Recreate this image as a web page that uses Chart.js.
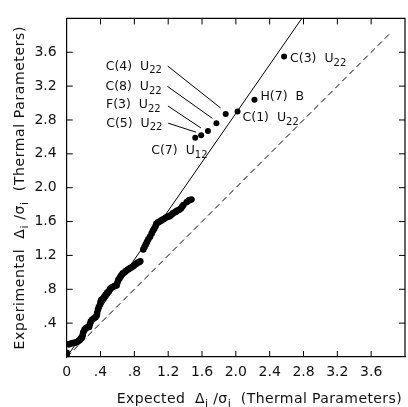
<!DOCTYPE html>
<html>
<head>
<meta charset="utf-8">
<script src="https://cdn.jsdelivr.net/npm/chart.js@4"></script>
<style>
  body { margin: 0; overflow: hidden; background: #fff; }
  #chart-thermal { position: absolute; left: 0; top: 0; }
</style>
</head>
<body>
<canvas id="chart-thermal" width="412" height="407"></canvas>
<script>
// dense run of atoms along the diagonal
var clusterX = [0.00, 0.00, 0.02, 0.03, 0.05, 0.07, 0.085, 0.10, 0.12, 0.14, 0.155, 0.17, 0.18, 0.19,
                0.195, 0.21, 0.225, 0.245, 0.265, 0.275, 0.285, 0.30, 0.32, 0.34, 0.355, 0.36, 0.37, 0.38,
                0.395, 0.40, 0.41, 0.43, 0.445, 0.46, 0.48, 0.50, 0.515, 0.53, 0.55, 0.57, 0.59, 0.60,
                0.61, 0.625, 0.64, 0.655, 0.665, 0.685, 0.70, 0.72, 0.735, 0.75, 0.77, 0.79, 0.805, 0.82,
                0.84, 0.855, 0.87, 0.905, 0.92, 0.935, 0.95, 0.965, 0.985, 1.005, 1.02, 1.035, 1.05, 1.06,
                1.08, 1.10, 1.115, 1.13, 1.15, 1.17, 1.19, 1.21, 1.225, 1.245, 1.26, 1.28, 1.295, 1.31,
                1.33, 1.35, 1.365, 1.38, 1.42, 1.445, 1.475];
var clusterY = [0.03, 0.05, 0.15, 0.15, 0.16, 0.165, 0.165, 0.17, 0.175, 0.19, 0.20, 0.22, 0.235, 0.26,
                0.29, 0.32, 0.34, 0.35, 0.355, 0.39, 0.42, 0.44, 0.455, 0.47, 0.49, 0.52, 0.56, 0.59,
                0.62, 0.65, 0.675, 0.69, 0.71, 0.735, 0.76, 0.78, 0.805, 0.82, 0.83, 0.84, 0.845, 0.88,
                0.91, 0.93, 0.955, 0.975, 0.99, 1.00, 1.015, 1.03, 1.04, 1.05, 1.06, 1.075, 1.09, 1.10,
                1.115, 1.12, 1.13, 1.27, 1.30, 1.33, 1.36, 1.39, 1.42, 1.46, 1.49, 1.515, 1.545, 1.575,
                1.59, 1.60, 1.61, 1.62, 1.63, 1.645, 1.655, 1.66, 1.67, 1.685, 1.70, 1.71, 1.72, 1.73,
                1.74, 1.755, 1.775, 1.795, 1.83, 1.85, 1.86];

// labelled atoms
var atomNames = ['C(3)', 'H(7)', 'C(1)', 'C(4)', 'C(8)', 'F(3)', 'C(5)', 'C(7)'];
var atomParam = ['U', 'B', 'U', 'U', 'U', 'U', 'U', 'U'];
var atomSub   = ['22', '', '22', '22', '22', '22', '22', '12'];
var atomX = [2.57, 2.22, 2.02, 1.88, 1.77, 1.67, 1.59, 1.52];
var atomY = [3.55, 3.04, 2.90, 2.87, 2.76, 2.67, 2.62, 2.59];

// reference lines
var fitX = [0, 2.78];
var fitY = [0, 4.0];
var idealX = [0, 3.83];
var idealY = [0, 3.83];

var axisMin = 0, axisMax = 4.0, tickStep = 0.4;

function toPoints(xs, ys) {
    return xs.map(function (x, i) { return { x: x, y: ys[i] }; });
}

function fmtTick(v, showZero) {
    if (Math.abs(v - axisMax) < 1e-6) return '';
    if (Math.abs(v) < 1e-6) return showZero ? '0' : '';
    return v.toFixed(1).replace(/^0\./, '.');
}

var FONT = '"DejaVu Sans"';
var INK = '#111';

// where each label sits, in px from its dot
var labelLayout = [
    { dx: 6, dy: 1 },
    { dx: 6, dy: -4 },
    { dx: 5, dy: 5 },
    { dx: -120, dy: -49, leader: [-58, -48, -5, -6] },
    { dx: -111, dy: -38, leader: [-49, -37, -4, -5] },
    { dx: -102, dy: -27, leader: [-40, -25, -7, -3] },
    { dx: -95, dy: -13, leader: [-33, -12, -5, -3] },
    { dx: -44, dy: 12 }
];

// draws a list of [text, isSubscript] pieces from x, baseline y
function drawPieces(ctx, pieces, x, y, size) {
    pieces.forEach(function (p) {
        var sub = p[1];
        ctx.font = (sub ? size * 0.8 : size) + 'px ' + FONT;
        ctx.fillText(p[0], x, sub ? y + size * 0.3 : y);
        x += ctx.measureText(p[0]).width;
    });
    return x;
}
function piecesWidth(ctx, pieces, size) {
    var w = 0;
    pieces.forEach(function (p) {
        ctx.font = (p[1] ? size * 0.8 : size) + 'px ' + FONT;
        w += ctx.measureText(p[0]).width;
    });
    return w;
}

var decor = {
    id: 'decor',
    afterDraw: function (chart) {
        var ctx = chart.ctx, a = chart.chartArea;
        var sx = chart.scales.x, sy = chart.scales.y;
        ctx.save();
        ctx.strokeStyle = '#000';
        ctx.lineWidth = 1.2;
        // frame top + right
        ctx.beginPath();
        ctx.moveTo(a.left, a.top); ctx.lineTo(a.right, a.top); ctx.lineTo(a.right, a.bottom);
        ctx.stroke();
        // inward ticks
        ctx.lineWidth = 1;
        ctx.beginPath();
        sx.ticks.forEach(function (t) {
            if (t.value <= 0 || t.value >= axisMax) return;
            var px = sx.getPixelForValue(t.value);
            ctx.moveTo(px, a.bottom); ctx.lineTo(px, a.bottom - 6);
            ctx.moveTo(px, a.top); ctx.lineTo(px, a.top + 6);
        });
        sy.ticks.forEach(function (t) {
            if (t.value <= 0 || t.value >= axisMax) return;
            var py = sy.getPixelForValue(t.value);
            ctx.moveTo(a.left, py); ctx.lineTo(a.left + 6, py);
            ctx.moveTo(a.right, py); ctx.lineTo(a.right - 6, py);
        });
        ctx.stroke();

        // atom labels
        ctx.fillStyle = INK;
        ctx.textBaseline = 'alphabetic';
        ctx.textAlign = 'left';
        var size = 12.5;
        atomNames.forEach(function (name, i) {
            var px = sx.getPixelForValue(atomX[i]);
            var py = sy.getPixelForValue(atomY[i]);
            var L = labelLayout[i];
            var x = px + L.dx, y = py + L.dy + size * 0.36;
            drawPieces(ctx, [[name + '  ' + atomParam[i], false], [atomSub[i], true]], x, y, size);
            if (L.leader) {
                ctx.beginPath();
                ctx.moveTo(px + L.leader[0], py + L.leader[1]);
                ctx.lineTo(px + L.leader[2], py + L.leader[3]);
                ctx.stroke();
            }
        });

        // axis titles
        var tsize = 14;
        ctx.letterSpacing = '0.4px';
        var xt = [['Expected  Δ', false], ['i', true], [' /σ', false], ['i', true], ['  (Thermal Parameters)', false]];
        drawPieces(ctx, xt, a.left + 50, a.bottom + 46, tsize);
        ctx.letterSpacing = '0.6px';
        var yt = [['Experimental  Δ', false], ['i', true], [' /σ', false], ['i', true], ['  (Thermal Parameters)', false]];
        var w = piecesWidth(ctx, yt, tsize);
        ctx.translate(24, (a.top + a.bottom) / 2);
        ctx.rotate(-Math.PI / 2);
        drawPieces(ctx, yt, -w / 2, 0, tsize);
        ctx.restore();
    }
};

var config = {
    type: 'scatter',
    data: {
        datasets: [{
            data: toPoints(clusterX, clusterY),
            backgroundColor: '#000',
            borderWidth: 0,
            pointRadius: 3.3
        }, {
            data: toPoints(atomX, atomY),
            backgroundColor: '#000',
            borderWidth: 0,
            pointRadius: 3
        }, {
            type: 'line',
            data: toPoints(fitX, fitY),
            borderColor: '#000',
            borderWidth: 1,
            pointRadius: 0,
            fill: false
        }, {
            type: 'line',
            data: toPoints(idealX, idealY),
            borderColor: '#000',
            borderWidth: 1,
            borderDash: [6, 4],
            pointRadius: 0,
            fill: false
        }]
    },
    options: {
        responsive: false,
        animation: false,
        layout: { padding: { top: 13, right: 1.7, left: 0, bottom: 0 } },
        plugins: { legend: { display: false }, tooltip: { enabled: false } },
        scales: {
            x: {
                type: 'linear', min: axisMin, max: axisMax,
                afterFit: function (s) { s.height = 50; },
                grid: { drawOnChartArea: false, drawTicks: false },
                border: { display: true, color: '#000', width: 1.2 },
                ticks: {
                    stepSize: tickStep, autoSkip: false, maxRotation: 0, padding: 7,
                    color: INK, font: { family: 'DejaVu Sans', size: 14 },
                    callback: function (v) { return fmtTick(v, true); }
                }
            },
            y: {
                type: 'linear', min: axisMin, max: axisMax,
                afterFit: function (s) { s.width = 66.7; },
                grid: { drawOnChartArea: false, drawTicks: false },
                border: { display: true, color: '#000', width: 1.2 },
                ticks: {
                    stepSize: tickStep, autoSkip: false, padding: 10,
                    color: INK, font: { family: 'DejaVu Sans', size: 14 },
                    callback: function (v) { return fmtTick(v, false); }
                }
            }
        }
    },
    plugins: [decor]
};

window.onload = function () {
    var ctx = document.getElementById('chart-thermal').getContext('2d');
    window.thermalChart = new Chart(ctx, config);
};
</script>
</body>
</html>
